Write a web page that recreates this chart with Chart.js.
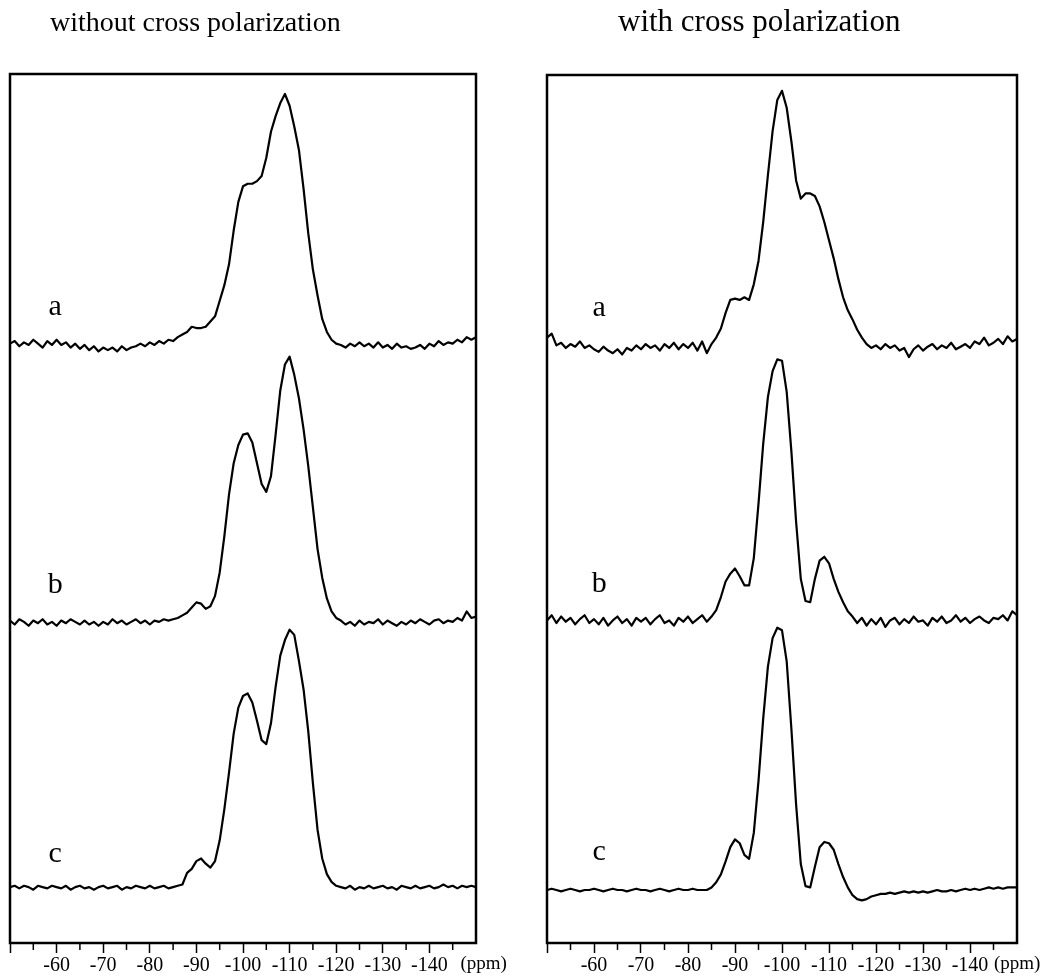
<!DOCTYPE html>
<html>
<head>
<meta charset="utf-8">
<script src="https://cdn.jsdelivr.net/npm/chart.js@4.4.1/dist/chart.umd.min.js"></script>
<style>
  html, body { margin: 0; padding: 0; background: #fff; }
  #wrap { position: relative; width: 1051px; height: 978px; }
  .panel { position: absolute; top: 0; height: 978px; }
</style>
</head>
<body>
<div id="wrap">
  <div class="panel" style="left:0;width:525px"><canvas id="chartNoCP" width="525" height="978"></canvas></div>
  <div class="panel" style="left:525px;width:526px"><canvas id="chartCP" width="526" height="978"></canvas></div>
</div>
<script>
// ── 29Si MAS NMR spectra, with / without cross polarization ──

// chemical shift grid (ppm)
const ppm = [
  -50, -51, -52, -53, -54, -55, -56, -57, -58, -59,
  -60, -61, -62, -63, -64, -65, -66, -67, -68, -69,
  -70, -71, -72, -73, -74, -75, -76, -77, -78, -79,
  -80, -81, -82, -83, -84, -85, -86, -87, -88, -89,
  -90, -91, -92, -93, -94, -95, -96, -97, -98, -99,
  -100, -101, -102, -103, -104, -105, -106, -107, -108, -109,
  -110, -111, -112, -113, -114, -115, -116, -117, -118, -119,
  -120, -121, -122, -123, -124, -125, -126, -127, -128, -129,
  -130, -131, -132, -133, -134, -135, -136, -137, -138, -139,
  -140, -141, -142, -143, -144, -145, -146, -147, -148, -149,
  -150
];

// without cross polarization (intensity, arb. units)
const noCpA = [
  0.5, 1.5, -0.5, 1, 0, 2, 0.5, -1, 1.5, 0,
  2, 0, 1, -1, 0.5, -1.5, 0, -2, -0.5, -2.5,
  -1, -2, -1, -2.5, -0.5, -2, -1, -0.5, 0.5, -0.5,
  1, 0, 1.5, 0.5, 2, 1.5, 3, 4, 5, 7,
  6.5, 6.5, 7, 9, 11, 17, 23, 31, 44, 55,
  61, 62, 62, 63, 65, 72, 82, 88, 93, 96.5,
  92, 84, 75, 60, 43, 29, 19, 10, 5, 2,
  0.5, 0, -1, 0.5, -0.5, 1, -0.5, 0.5, -1, 1,
  -1, 0, -1.5, 0.5, -1, -0.5, -1.5, -1, 0, -1.5,
  0.5, -0.5, 1.5, 0, 1, 0.5, 2, 1, 3, 2,
  3
];
const noCpB = [
  0.5, -1, 1, 0, -1.5, 0.5, -0.5, 1, -1, 0,
  -1.5, 0.5, -0.5, 1, 0, -1, 0.5, -1, 0, -1.5,
  0, -1, 1, -0.5, 0.5, -1, 0, 1, -0.5, 0.5,
  -1, 0.5, 0, 1, 0.5, 1, 1.5, 2.5, 3.5, 5.5,
  7.5, 7, 5, 6, 10, 19, 33, 49, 61, 68,
  72, 72.5, 69, 61, 53, 50, 56, 72, 89, 99,
  102, 95, 86, 74, 60, 44, 28, 17, 9, 4,
  1.5, 0.5, -1, 0, -1.5, 0.5, -1, 0, -0.5, 1,
  -1, 0.5, -0.5, -1.5, 0, -1, 0.5, -0.5, 1, 0,
  -1, 0.5, 1, -0.5, 0.5, 0, 1.5, 0.5, 4, 1.5,
  2
];
const noCpC = [
  0, 0.5, -0.5, 0.5, 0, -1, 0.5, 0, -0.5, 0.5,
  0, -0.5, 0.5, -1, 0, 0.5, -0.5, 0, -1, 0,
  0.5, -0.5, 0, 0.5, -1, 0, -0.5, 0.5, 0, -0.5,
  0.5, -0.5, 0, 0.5, -0.5, 0, 0.5, 1, 5.5, 7,
  10, 11, 9, 7.5, 10, 18, 30, 44, 59, 69,
  73.5, 74.5, 71, 64, 56.5, 55, 63, 77, 89, 95,
  99, 97, 87, 76, 60, 40, 22, 11, 5, 2,
  0.5, 0, -0.5, 0.5, -1, 0, -0.5, 0.5, -0.5, 0,
  0.5, -0.5, 0, -1, 0.5, 0, -0.5, 0.5, -0.5, 0,
  0.5, -0.5, 0, 1, 0, 0.5, -0.5, 0.5, 0, 0.5,
  0
];

// with cross polarization
const cpA = [
  3.5, 5, 0.5, 1.5, -0.5, 1, 0, 2, -0.5, 0.5,
  -1, -2, 0, -1.5, -2.5, -1, -3, -0.5, -1.5, 0.5,
  -1, 1, -0.5, 0.5, -1.5, 1, -0.5, 1.5, -1, 1,
  -0.5, 1.5, -1.5, 2, -2.5, 1, 3.5, 7, 13, 18,
  18.5, 18, 19, 18, 24, 33, 48, 66, 83, 95,
  98.5, 92, 79, 64, 57, 59, 59, 58, 54, 48,
  41, 34, 26, 19, 14, 10.5, 6.5, 3.5, 1, -0.5,
  0.5, -1, 1, -0.5, 0.5, -1.5, -0.5, -4, -1, 0.5,
  -1.5, 0, 1, -1, 0.5, -0.5, 1.5, -1, 0, 1,
  -0.5, 2, 1, 3.5, 0.5, 1.5, 3, 1, 4, 2,
  3
];
const cpB = [
  0, 2, -1, 1.5, -0.5, 1, -1.5, 0.5, 2, -1,
  0.5, -1.5, 1, -2, 0, 1.5, -1, 0.5, -2, 1,
  -0.5, 1, -1.5, 0.5, 2, -1, 0, -2, 1, -0.5,
  1.5, -1, 0.5, 2, -0.5, 1.5, 4, 9, 15, 18,
  20, 17, 13.5, 13.5, 24, 45, 68, 86, 96, 100.5,
  100, 88, 65, 38, 16, 7.5, 7, 16, 23, 24.5,
  22, 16, 11, 7, 3.5, 1.5, -1, 1, -2, 0.5,
  -1.5, 1, -2.5, 0, 1, -1.5, 0.5, -1, 1.5, -0.5,
  0, -2, 1, -0.5, 1.5, -1, 0, 2, -0.5, 1,
  -1, 0.5, 1.5, 0, -1, 1, 0.5, 2, 0, 3.5,
  2
];
const cpC = [
  0, 0.5, 0, -0.5, 0, 0.5, 0, -0.5, 0, 0,
  0.5, 0, -0.5, 0, 0.5, 0, 0, -0.5, 0, 0.5,
  0, 0, -0.5, 0, 0.5, 0, -0.5, 0, 0.5, 0,
  0, 0.5, 0, 0, 0, 1, 3, 6, 11, 16.5,
  19.5, 18, 13.5, 12, 22, 42, 66, 86, 97, 101,
  100, 88, 62, 33, 10, 1.5, 1, 9, 16.5, 18.5,
  18, 15.5, 10, 5, 1, -2, -3.5, -4, -3.5, -2.5,
  -2, -1.5, -1.5, -1, -1.5, -1, -0.5, -1, -0.5, -1,
  -0.5, -1, -0.5, 0, -0.5, -0.5, 0, -0.5, 0, 0.5,
  0, 0.5, 0, 0.5, 1, 0.5, 1, 0.5, 1, 1,
  1
];

// vertical stacking of traces a, b, c
const noCpOffsets = [230, 123.5, 21.5];
const cpOffsets = [229.6, 124.2, 20.4];

const traceNames = ['a', 'b', 'c'];
const panelTitles = ['without cross polarization', 'with cross polarization'];
const majorTicks = [-60, -70, -80, -90, -100, -110, -120, -130, -140];
const unitLabel = '(ppm)';

const FONT = '"Liberation Serif", "DejaVu Serif", serif';

// frame, minor ticks, title, trace letters, unit
const decorPlugin = {
  id: 'decor',
  afterDraw(chart, args, opts) {
    const { ctx, chartArea: a } = chart;
    const x = chart.scales.x, y = chart.scales.y;
    ctx.save();
    ctx.strokeStyle = '#000';
    ctx.lineWidth = 2.5;
    ctx.strokeRect(a.left, a.top, a.right - a.left, a.bottom - a.top);

    ctx.lineWidth = 1.5;
    x.ticks.forEach(t => {
      if (t.value % 10 === 0) return;
      const px = x.getPixelForValue(t.value);
      ctx.beginPath();
      ctx.moveTo(px, a.bottom);
      ctx.lineTo(px, a.bottom + 7);
      ctx.stroke();
    });

    ctx.fillStyle = '#000';
    ctx.textBaseline = 'alphabetic';
    ctx.textAlign = 'left';
    ctx.font = `${opts.titleSize}px ${FONT}`;
    ctx.fillText(opts.title, a.left + opts.titleDx, 31);

    ctx.font = `30px ${FONT}`;
    ctx.textAlign = 'center';
    opts.offsets.forEach((off, i) => {
      ctx.fillText(traceNames[i], x.getPixelForValue(opts.letterPpm), y.getPixelForValue(off + opts.letterRise[i]));
    });

    ctx.font = `19px ${FONT}`;
    ctx.textAlign = 'left';
    ctx.textBaseline = 'middle';
    ctx.fillText(unitLabel, x.getPixelForValue(-140) + opts.unitDx, a.bottom + 21);
    ctx.restore();
  }
};

function buildPanel(canvasId, series, offsets, pad, decor) {
  const datasets = series.map((vals, i) => ({
    label: traceNames[i],
    data: ppm.map((p, j) => ({ x: p, y: offsets[i] + vals[j] })),
    borderColor: '#000',
    borderWidth: 2.2,
    borderJoinStyle: 'round',
    pointRadius: 0,
    tension: 0,
    fill: false
  }));

  return new Chart(document.getElementById(canvasId), {
    type: 'line',
    data: { datasets },
    options: {
      responsive: false,
      animation: false,
      devicePixelRatio: 1,
      layout: { padding: pad },
      plugins: {
        legend: { display: false },
        tooltip: { enabled: false },
        decor: Object.assign({ offsets }, decor)
      },
      scales: {
        x: {
          type: 'linear',
          min: -150,
          max: -50,
          reverse: true,
          afterFit: s => { s.height = 35; },
          border: { display: false },
          grid: {
            drawOnChartArea: false,
            drawTicks: true,
            tickLength: 10,
            tickWidth: 1.5,
            tickColor: c => (c.tick && c.tick.value % 10 === 0 && c.tick.value > -150) ? '#000' : 'rgba(0,0,0,0)'
          },
          ticks: {
            stepSize: 5,
            autoSkip: false,
            maxRotation: 0,
            minRotation: 0,
            padding: 1,
            color: '#000',
            font: { family: FONT, size: 20 },
            callback: v => majorTicks.includes(v) ? String(v) : ''
          }
        },
        y: { display: false, min: 0, max: 334.2 }
      }
    },
    plugins: [decorPlugin]
  });
}

buildPanel('chartNoCP', [noCpA, noCpB, noCpC], noCpOffsets,
  { left: 10, right: 49, top: 74, bottom: 0 },
  { title: panelTitles[0], titleSize: 28, titleDx: 40, letterPpm: -59.7, letterRise: [11.5, 11, 9.6], unitDx: 31 });

buildPanel('chartCP', [cpA, cpB, cpC], cpOffsets,
  { left: 22, right: 34, top: 75, bottom: 0 },
  { title: panelTitles[1], titleSize: 31, titleDx: 71, letterPpm: -61.1, letterRise: [12, 11, 11.5], unitDx: 24 });
</script>
</body>
</html>
